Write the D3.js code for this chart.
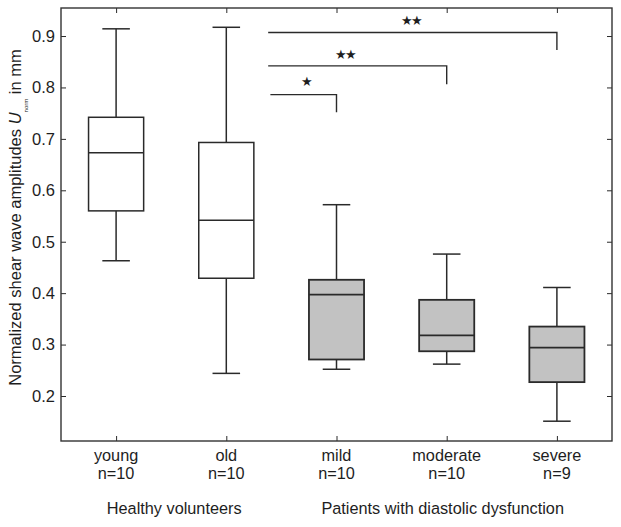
<!DOCTYPE html>
<html>
<head>
<meta charset="utf-8">
<script src="https://cdn.jsdelivr.net/npm/d3@7"></script>
<style>
  html, body { margin: 0; padding: 0; background: #fff; }
  svg { display: block; }
  text { font-family: Arial, "Liberation Sans", sans-serif; fill: #1e1e1e; }
</style>
</head>
<body>
<svg id="chart" width="621" height="527"></svg>
<script>
// ---- data ----
const categories = ["young", "old", "mild", "moderate", "severe"];
const counts = ["n=10", "n=10", "n=10", "n=10", "n=9"];
const whiskerLow  = [0.463, 0.244, 0.252, 0.262, 0.151];
const q1          = [0.560, 0.429, 0.271, 0.287, 0.227];
const medians     = [0.673, 0.542, 0.397, 0.318, 0.294];
const q3          = [0.742, 0.693, 0.426, 0.387, 0.335];
const whiskerHigh = [0.914, 0.917, 0.572, 0.476, 0.411];
const patientGroup = [false, false, true, true, true];
const yTicks = [0.2, 0.3, 0.4, 0.5, 0.6, 0.7, 0.8, 0.9];
const groupNames = ["Healthy volunteers", "Patients with diastolic dysfunction"];
const groupMembers = [["young", "old"], ["mild", "moderate", "severe"]];
// significance brackets: start position, target category, bar level, drop end, label
const sigStart  = [2.40, 2.38, 2.38];
const sigTarget = ["mild", "moderate", "severe"];
const sigLevel  = [0.786, 0.842, 0.907];
const sigDrop   = [0.752, 0.806, 0.873];
const sigLabels = ["★", "★★", "★★"];
const sigLabelX = [2.73, 3.08, 3.68];
const sigLabelY = [0.811, 0.864, 0.931];

// ---- layout ----
const L = 61, R = 612, T = 8, B = 441;
const svg = d3.select("#chart");
const x = d3.scaleLinear().domain([0.5, 5.5]).range([L, R]);
const y = d3.scaleLinear().domain([0.1125, 0.9545]).range([B, T]);
const pos = c => categories.indexOf(c) + 1;
const boxW = x(1.25) - x(1);     // half width
const capW = x(1.125) - x(1);
const ink = "#2a2a2a";

// axes (inward ticks)
svg.append("g").attr("transform", `translate(${L},0)`)
  .call(d3.axisLeft(y).tickValues(yTicks).tickSize(-5).tickPadding(6).tickFormat(d3.format(".1f")))
  .call(g => g.select(".domain").remove())
  .call(g => g.selectAll("line").attr("stroke", ink))
  .call(g => g.selectAll("text").attr("font-size", 16.5).attr("fill", "#1e1e1e")
      .attr("font-family", "Arial, 'Liberation Sans', sans-serif"));
svg.append("g").attr("transform", `translate(${R},0)`)
  .call(d3.axisRight(y).tickValues(yTicks).tickSize(-5).tickFormat(""))
  .call(g => g.select(".domain").remove())
  .call(g => g.selectAll("line").attr("stroke", ink));
svg.append("g").attr("transform", `translate(0,${T})`)
  .call(d3.axisTop(x).tickValues([1,2,3,4,5]).tickSize(-5).tickFormat(""))
  .call(g => g.select(".domain").remove())
  .call(g => g.selectAll("line").attr("stroke", ink));
svg.append("g").attr("transform", `translate(0,${B})`)
  .call(d3.axisBottom(x).tickValues([1,2,3,4,5]).tickSize(-5).tickFormat(""))
  .call(g => g.select(".domain").remove())
  .call(g => g.selectAll("line").attr("stroke", ink));

// frame
svg.append("rect").attr("x", L).attr("y", T).attr("width", R - L).attr("height", B - T)
  .attr("fill", "none").attr("stroke", "#333").attr("stroke-width", 1.4);

// boxes
const data = categories.map((c, i) => ({
  c, lo: whiskerLow[i], q1: q1[i], med: medians[i], q3: q3[i], hi: whiskerHigh[i], pat: patientGroup[i]
}));
const gBox = svg.append("g").selectAll("g").data(data).join("g");
gBox.each(function(d) {
  const g = d3.select(this);
  const cx = x(pos(d.c));
  const sw = d.pat ? 1.8 : 1.5;
  g.append("line").attr("x1", cx).attr("x2", cx).attr("y1", y(d.q3)).attr("y2", y(d.hi))
    .attr("stroke", ink).attr("stroke-width", 1.5);
  g.append("line").attr("x1", cx).attr("x2", cx).attr("y1", y(d.q1)).attr("y2", y(d.lo))
    .attr("stroke", ink).attr("stroke-width", 1.5);
  g.append("line").attr("x1", cx - capW).attr("x2", cx + capW).attr("y1", y(d.hi)).attr("y2", y(d.hi))
    .attr("stroke", ink).attr("stroke-width", 1.5);
  g.append("line").attr("x1", cx - capW).attr("x2", cx + capW).attr("y1", y(d.lo)).attr("y2", y(d.lo))
    .attr("stroke", ink).attr("stroke-width", 1.5);
  g.append("rect").attr("x", cx - boxW).attr("width", 2 * boxW)
    .attr("y", y(d.q3)).attr("height", y(d.q1) - y(d.q3))
    .attr("fill", d.pat ? "#c2c2c2" : "#fff").attr("stroke", ink).attr("stroke-width", sw);
  g.append("line").attr("x1", cx - boxW).attr("x2", cx + boxW).attr("y1", y(d.med)).attr("y2", y(d.med))
    .attr("stroke", ink).attr("stroke-width", sw);
});

// significance brackets
const sig = sigTarget.map((t, i) => ({ s: sigStart[i], t, lv: sigLevel[i], dr: sigDrop[i], lab: sigLabels[i], lx: sigLabelX[i], ly: sigLabelY[i] }));
const gSig = svg.append("g");
gSig.selectAll("path").data(sig).join("path")
  .attr("d", d => `M${x(d.s)},${y(d.lv)}H${x(pos(d.t))}V${y(d.dr)}`)
  .attr("fill", "none").attr("stroke", ink).attr("stroke-width", 1.4);
gSig.selectAll("text").data(sig).join("text")
  .attr("x", d => x(d.lx)).attr("y", d => y(d.ly))
  .attr("text-anchor", "middle").attr("dominant-baseline", "central")
  .attr("font-family", "'DejaVu Sans', sans-serif").attr("font-size", 13).attr("fill", "#111")
  .attr("letter-spacing", -1.5)
  .text(d => d.lab);

// category labels
const gLab = svg.append("g");
gLab.selectAll("text.cat").data(categories).join("text").attr("class", "cat")
  .attr("x", d => x(pos(d))).attr("y", 461).attr("text-anchor", "middle").attr("font-size", 16.3)
  .text(d => d);
gLab.selectAll("text.n").data(counts).join("text").attr("class", "n")
  .attr("x", (d, i) => x(i + 1)).attr("y", 478.5).attr("text-anchor", "middle").attr("font-size", 16.3)
  .text(d => d);
gLab.selectAll("text.grp").data(groupNames).join("text").attr("class", "grp")
  .attr("x", (d, i) => x(d3.mean(groupMembers[i], pos)) - (i === 0 ? -3 : 4))
  .attr("y", 514).attr("text-anchor", "middle").attr("font-size", 16.3)
  .text(d => d);

// y title
const yt = svg.append("text").attr("transform", "translate(21,217.5) rotate(-90)")
  .attr("text-anchor", "middle").attr("font-size", 16.5);
yt.append("tspan").text("Normalized shear wave amplitudes ");
yt.append("tspan").attr("font-style", "italic").text("U");
yt.append("tspan").attr("font-size", 6).attr("dy", 7).text("norm");
yt.append("tspan").attr("dy", -7).text(" in mm");
</script>
</body>
</html>
